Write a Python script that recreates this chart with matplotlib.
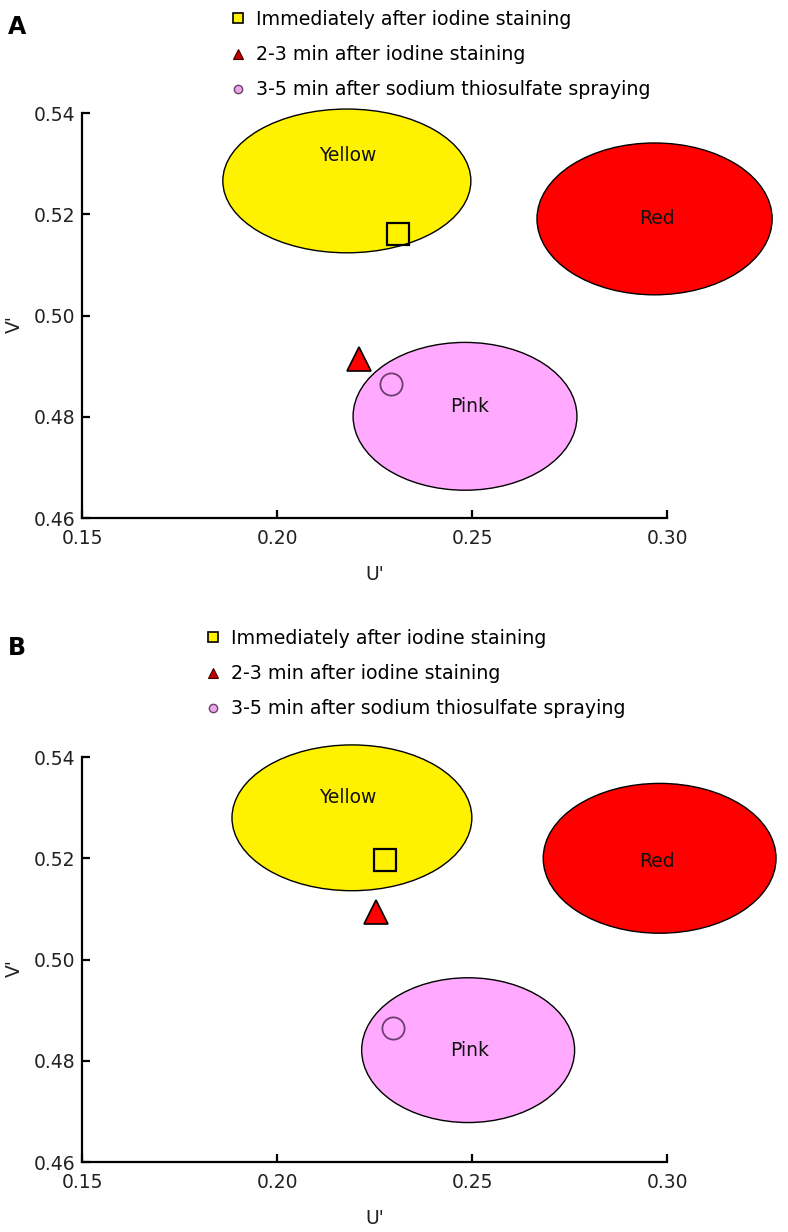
import matplotlib
matplotlib.use("Agg")
import matplotlib.pyplot as plt
from matplotlib.patches import Ellipse
from matplotlib.lines import Line2D

plt.rcParams['font.family'] = ['DejaVu Sans']

# ---- data ----
region_names = ["Yellow", "Red", "Pink"]
region_colors = ["#FFF200", "#FF0000", "#FFAAFF"]

# panel A regions: centre u, centre v, width, height
a_center_u = [0.2179, 0.2968, 0.2482]
a_center_v = [0.5266, 0.5191, 0.4801]
a_width = [0.0636, 0.0603, 0.0574]
a_height = [0.0284, 0.0300, 0.0292]
a_label_u = [0.2182, 0.2974, 0.2495]
a_label_v = [0.5317, 0.5191, 0.4821]

# panel B regions
b_center_u = [0.2192, 0.2981, 0.2490]
b_center_v = [0.5280, 0.5200, 0.4821]
b_width = [0.0615, 0.0597, 0.0546]
b_height = [0.0288, 0.0296, 0.0286]
b_label_u = [0.2182, 0.2974, 0.2495]
b_label_v = [0.5321, 0.5193, 0.4821]

series_labels = ["Immediately after iodine staining",
                 "2-3 min after iodine staining",
                 "3-5 min after sodium thiosulfate spraying"]
# points (u', v') for each series
a_points_u = [0.2309, 0.2209, 0.2292]
a_points_v = [0.5162, 0.4915, 0.4864]
b_points_u = [0.2276, 0.2254, 0.2297]
b_points_v = [0.5197, 0.5094, 0.4865]

x_ticks = [0.15, 0.20, 0.25, 0.30]
y_ticks = [0.46, 0.48, 0.50, 0.52, 0.54]

fig = plt.figure(figsize=(7.88, 12.32), dpi=100)


def draw_panel(ax, cu, cv, w, h, lu, lv, pu, pv, letter, letter_y, leg_anchor):
    for i in range(3):
        e = Ellipse((cu[i], cv[i]), w[i], h[i], facecolor=region_colors[i],
                    edgecolor="black", linewidth=1.0, clip_on=False, zorder=1)
        ax.add_patch(e)
        ax.text(lu[i], lv[i], region_names[i], ha="center", va="center",
                fontsize=13.5, color="#111111", zorder=2, clip_on=False)
    # markers on chart
    ax.plot(pu[0], pv[0], marker="s", markersize=16, markerfacecolor="none",
            markeredgecolor="black", markeredgewidth=1.6, linestyle="none",
            clip_on=False, zorder=3)
    ax.plot(pu[1], pv[1], marker="^", markersize=17, markerfacecolor="#FF0000",
            markeredgecolor="black", markeredgewidth=1.2, linestyle="none",
            clip_on=False, zorder=3)
    ax.plot(pu[2], pv[2], marker="o", markersize=16, markerfacecolor="none",
            markeredgecolor="#6E3F6E", markeredgewidth=1.3, linestyle="none",
            clip_on=False, zorder=3)

    ax.set_xlim(0.15, 0.30)
    ax.set_ylim(0.46, 0.54)
    ax.set_xticks(x_ticks)
    ax.set_yticks(y_ticks)
    ax.set_xticklabels([f"{t:.2f}" for t in x_ticks])
    ax.set_yticklabels([f"{t:.2f}" for t in y_ticks])
    for s in ["top", "right"]:
        ax.spines[s].set_visible(False)
    for s in ["left", "bottom"]:
        ax.spines[s].set_linewidth(1.6)
    ax.tick_params(direction="in", length=6, width=1.6, labelsize=13.5,
                   labelcolor="#222222")
    ax.tick_params(axis="x", pad=8)
    ax.tick_params(axis="y", pad=5)
    ax.set_xlabel("U'", fontsize=13.5, color="#222222")
    ax.set_ylabel("V'", fontsize=13.5, color="#222222")
    ax.xaxis.set_label_coords(0.5, -0.116)
    ax.yaxis.set_label_coords(-0.100, 0.48)
    ax.patch.set_visible(False)

    handles = [
        Line2D([], [], marker="s", markersize=7, markerfacecolor="#FFF200",
               markeredgecolor="black", markeredgewidth=1.2, linestyle="none"),
        Line2D([], [], marker="^", markersize=7, markerfacecolor="#C00000",
               markeredgecolor="#400000", markeredgewidth=0.8, linestyle="none"),
        Line2D([], [], marker="o", markersize=6, markerfacecolor="#E8A8E8",
               markeredgecolor="#6E3F6E", markeredgewidth=1.0, linestyle="none"),
    ]
    fig.legend(handles, series_labels, loc="upper left",
               bbox_to_anchor=leg_anchor, bbox_transform=fig.transFigure,
               frameon=False, fontsize=13.7, handlelength=1.0, handletextpad=0.45,
               labelspacing=0.85, borderpad=0, borderaxespad=0)
    fig.text(8 / 788, 1 - letter_y / 1232, letter, fontsize=17,
             fontweight="bold", ha="left", va="center")


axA = fig.add_axes([0.1041, 0.5795, 0.7424, 0.3287])
axB = fig.add_axes([0.1041, 0.0568, 0.7424, 0.3287])

draw_panel(axA, a_center_u, a_center_v, a_width, a_height, a_label_u, a_label_v,
           a_points_u, a_points_v, "A", 27, (228 / 788, 1 - 10 / 1232))
draw_panel(axB, b_center_u, b_center_v, b_width, b_height, b_label_u, b_label_v,
           b_points_u, b_points_v, "B", 648, (203 / 788, 1 - 629 / 1232))

fig.savefig("out.png", dpi=100)
